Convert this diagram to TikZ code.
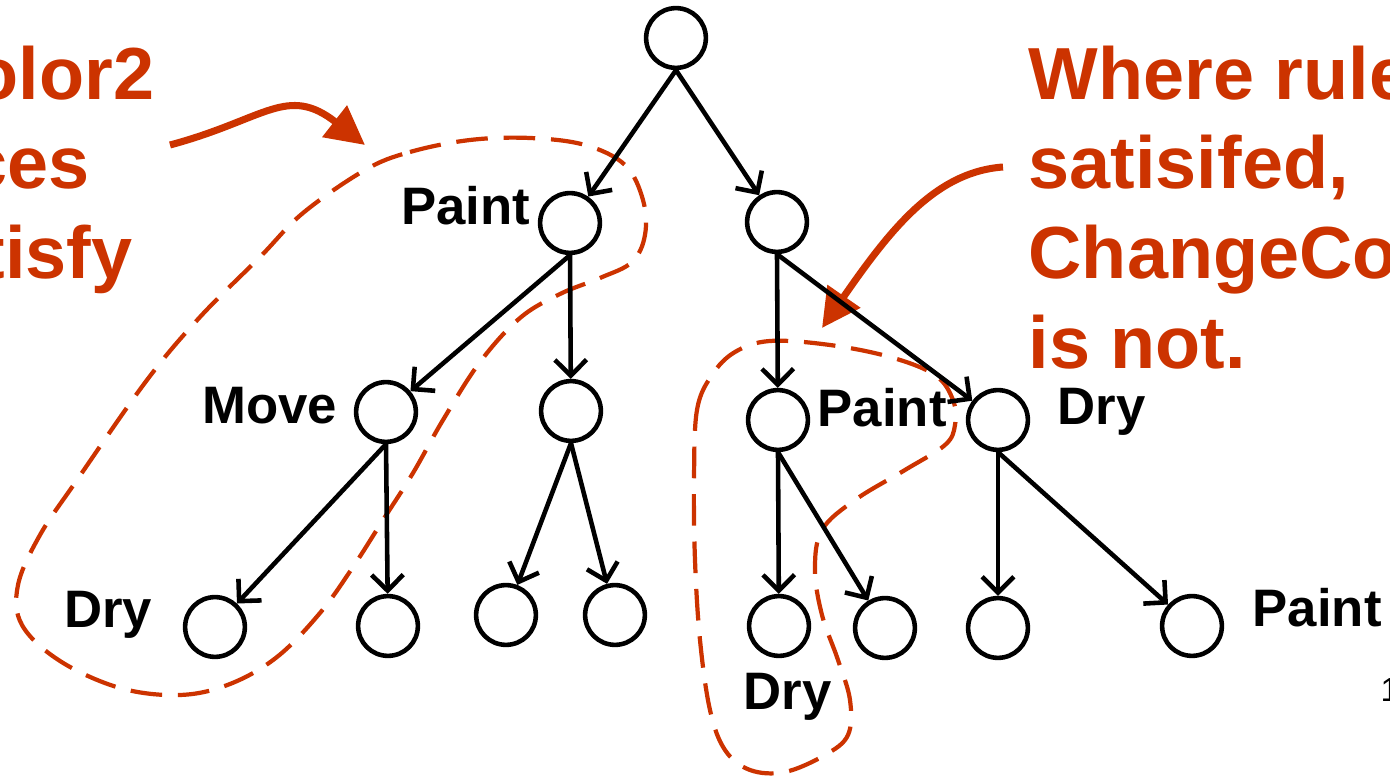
\documentclass[tikz,border=0pt]{standalone}
\usepackage{fontspec}
\setmainfont{Liberation Sans}
\usetikzlibrary{arrows.meta}
\definecolor{slidered}{RGB}{204,51,0}
\tikzstyle{vertex} = [circle, draw, line width=1.3pt, minimum size=17pt, inner sep=0pt]
\tikzstyle{edge} = [line width=1.3pt, ->, >={Straight Barb[length=4.5pt,width=9pt]}]
\tikzstyle{lbl} = [font=\fontsize{15}{18}\selectfont\bfseries, inner sep=0pt]
\tikzstyle{region} = [slidered, line width=1.2pt, dash pattern=on 9pt off 4.5pt]
\tikzstyle{callout} = [slidered, line width=2pt, -{Triangle[length=11pt,width=11pt]}]
\tikzstyle{note} = [slidered, font=\fontsize{21}{25.5}\selectfont\bfseries, align=left, inner sep=0pt]

\begin{document}
\begin{tikzpicture}
  \useasboundingbox (0,0) rectangle (13.9,7.76);
  \clip (0,0) rectangle (13.9,7.76);

  % dashed groups
  \draw[region] plot[smooth cycle, tension=0.6] coordinates {
    (3.65,6.06) (4.10,6.24) (4.70,6.36) (5.30,6.38) (5.85,6.31) (6.25,6.11)
    (6.43,5.76) (6.45,5.41) (6.32,5.14) (6.00,4.98) (5.60,4.82) (5.20,4.58)
    (4.80,4.14) (4.43,3.56) (4.13,3.03) (3.83,2.56) (3.53,2.09) (3.20,1.63)
    (2.77,1.19) (2.30,0.92) (1.80,0.81) (1.20,0.88) (0.60,1.15) (0.22,1.51)
    (0.18,1.91) (0.40,2.41) (0.77,2.96) (1.47,3.96) (2.00,4.59) (2.60,5.19)
    (3.03,5.63)};
  \draw[region] plot[smooth cycle, tension=0.6] coordinates {
    (6.94,2.96) (6.97,3.66) (7.12,4.01) (7.35,4.24) (7.70,4.35) (8.30,4.31)
    (8.90,4.19) (9.35,4.01) (9.53,3.76) (9.55,3.51) (9.45,3.31) (9.05,3.06)
    (8.55,2.76) (8.22,2.46) (8.15,2.06) (8.22,1.61) (8.38,1.16) (8.50,0.76)
    (8.48,0.41) (8.25,0.21) (7.85,0.04) (7.50,0.06) (7.25,0.26) (7.10,0.66)
    (7.00,1.36) (6.95,2.16)};

  % side notes
  \node[note, anchor=north west] (leftnote) at (-0.27,7.31) {olor2\\\kern-2pt ces\\\kern2pt tisfy};
  \node[note, anchor=north west] (rightnote) at (10.28,7.31) {Where rule\\satisifed,\\ChangeCo\\is not.};
  \coordinate (la) at (1.70,6.31);
  \coordinate (lb) at (3.65,6.31);
  \coordinate (ra) at (10.03,6.09);
  \coordinate (rb) at (8.22,4.48);
  \draw[callout] (la) to[out=15, in=142, looseness=1.3] (lb);
  \draw[callout] (ra) .. controls (9.35,6.04) and (8.90,5.46) .. (rb);

  % tree
  \node[vertex] (root) at (6.76,7.38) {};
  \node[vertex] (pA) at (5.70,5.53) {};
  \node[vertex] (pB) at (7.77,5.54) {};
  \node[vertex] (mv) at (3.86,3.64) {};
  \node[vertex] (c2) at (5.71,3.65) {};
  \node[vertex] (p2) at (7.78,3.56) {};
  \node[vertex] (d2) at (9.98,3.56) {};
  \node[vertex] (l1) at (2.15,1.49) {};
  \node[vertex] (l2) at (3.88,1.50) {};
  \node[vertex] (l3) at (5.06,1.61) {};
  \node[vertex] (l4) at (6.15,1.61) {};
  \node[vertex] (l5) at (7.79,1.50) {};
  \node[vertex] (l6) at (8.85,1.48) {};
  \node[vertex] (l7) at (9.98,1.48) {};
  \node[vertex] (l8) at (11.92,1.50) {};

  \foreach \a/\b in {root/pA, root/pB, pA/mv, pA/c2, pB/p2, pB/d2, mv/l1, mv/l2,
                     c2/l3, c2/l4, p2/l5, p2/l6, d2/l7, d2/l8}
    \draw[edge] (\a.south) -- (\b);

  % action labels
  \node[lbl, anchor=base east] (tPaintA) at (5.31,5.51) {Paint};
  \node[lbl, anchor=base east] (tMove) at (3.38,3.52) {Move};
  \node[lbl, anchor=base east] (tDryA) at (1.53,1.48) {Dry};
  \node[lbl, anchor=base west] (tPaintB) at (8.17,3.49) {Paint};
  \node[lbl, anchor=base west] (tDryB) at (10.57,3.51) {Dry};
  \node[lbl, anchor=base west] (tDryC) at (7.43,0.66) {Dry};
  \node[lbl, anchor=base west] (tPaintC) at (12.52,1.49) {Paint};
  \node[font=\fontsize{9.5}{11}\selectfont, anchor=base west, inner sep=0pt] (pg) at (13.80,0.74) {1};
\end{tikzpicture}
\end{document}
